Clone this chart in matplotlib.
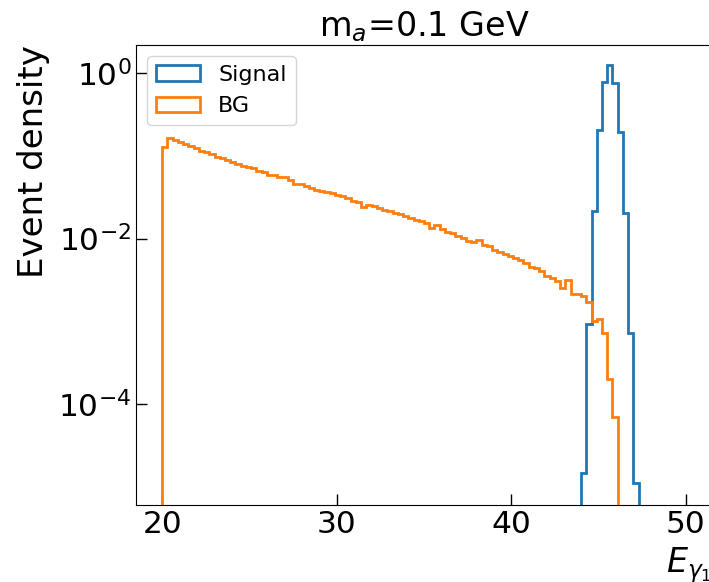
import numpy as np
import matplotlib
matplotlib.use('Agg')
import matplotlib.pyplot as plt
from matplotlib import ticker

# binning: 0.3 GeV bins from 20 to 50
bin_edges = np.round(np.linspace(20, 50, 101), 2)
bin_centers = 0.5 * (bin_edges[:-1] + bin_edges[1:])

# signal density, bins starting at 44.0 GeV
signal_start = 80
signal_vals = [1.44e-5, 9.2e-4, 0.0217, 0.206, 0.79, 1.26, 0.77, 0.196, 0.0202, 7.1e-4, 1.1e-5]

# background density, bins starting at 20.0 GeV
bg_start = 0
bg_vals = [0.1292, 0.1633, 0.1536, 0.1473, 0.1393, 0.1318, 0.1246, 0.1162, 0.1100, 0.1054,
           0.0983, 0.0943, 0.0892, 0.0843, 0.0787, 0.0765, 0.0734, 0.0704, 0.0657, 0.0638,
           0.0595, 0.0587, 0.0555, 0.0560, 0.0511, 0.0457, 0.0451, 0.0438, 0.0409, 0.0387,
           0.0381, 0.0366, 0.0356, 0.0336, 0.0327, 0.0309, 0.0284, 0.0277, 0.0243, 0.0254,
           0.0247, 0.0234, 0.0221, 0.0215, 0.0204, 0.0198, 0.0185, 0.0177, 0.0167, 0.0163,
           0.0154, 0.0133, 0.0146, 0.0130, 0.0121, 0.0117, 0.0107, 0.01005, 0.00933, 0.00915,
           0.00959, 0.00834, 0.00811, 0.00726, 0.00687, 0.00649, 0.00622, 0.00576, 0.00549, 0.00505,
           0.00456, 0.00439, 0.00404, 0.00352, 0.00330, 0.00306, 0.00254, 0.00315, 0.00211, 0.00211,
           0.00203, 0.00172, 0.001003, 0.00106, 0.000712, 0.000197, 6.84e-5]

yticks = [1e-4, 1e-2, 1]

sig_w = np.zeros(len(bin_centers))
sig_w[signal_start:signal_start + len(signal_vals)] = signal_vals
bg_w = np.zeros(len(bin_centers))
bg_w[bg_start:bg_start + len(bg_vals)] = bg_vals

fig = plt.figure(figsize=(7.09, 5.82), dpi=100)
ax = fig.add_axes([0.1918, 0.1318, 0.8124, 0.7909])

ax.hist(bin_centers, bins=bin_edges, weights=sig_w, histtype='step', lw=2,
        color='C0', label='Signal', log=True)
ax.hist(bin_centers, bins=bin_edges, weights=bg_w, histtype='step', lw=2,
        color='C1', label='BG', log=True)

ax.set_xlim(18.5, 51.5)
ax.set_ylim(5.9e-6, 2.2)
ax.set_yticks(yticks)
ax.yaxis.set_minor_locator(ticker.NullLocator())
ax.set_xticks([20, 30, 40, 50])
ax.tick_params(direction='in', length=8, width=1, labelsize=22.5)

# labels sit at the ends of the axes, the x one runs off the canvas like the original
ax.set_ylabel('Event density', fontsize=24.5, loc='top', labelpad=6)
ax.set_xlabel(r'$E_{\gamma_1}$', fontsize=24, loc='right')
ax.set_title(r'm$_a$=0.1 GeV', fontsize=24)
ax.legend(loc='upper left', fontsize=16)

fig.savefig('out.png', dpi=100)
